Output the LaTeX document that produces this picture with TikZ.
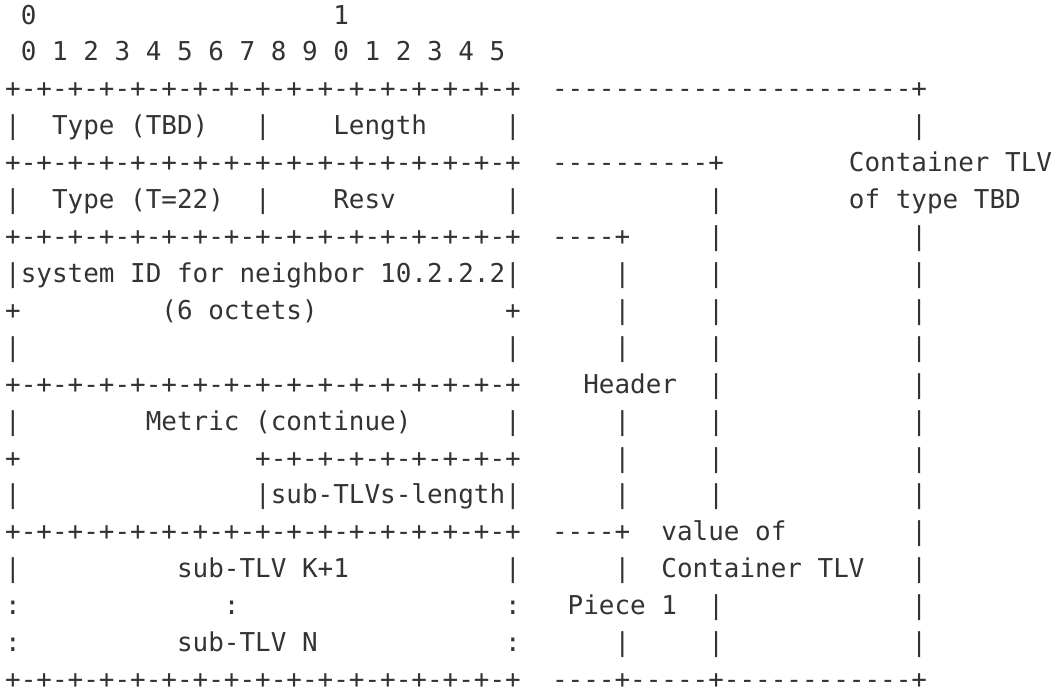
\documentclass[tikz,border=0pt]{standalone}
\usepackage{fontspec}
\setmonofont{DejaVu Sans Mono}
\definecolor{ink}{HTML}{333333}
% one character cell is 15.625 units wide; rows are 36.92 units apart
\tikzset{
  asc/.style={anchor=base west, inner sep=0pt, outer sep=0pt, text=ink,
    font=\ttfamily\fontsize{12.976}{15}\selectfont}
}
% \putseg{name}{row}{column}{text}
\newcommand\putseg[4]{\node[asc] (#1) at ({5.2+15.625*#3},{24+36.92*#2}) {#4};}
\begin{document}
\begin{tikzpicture}[x=0.5pt,y=-0.5pt]
\useasboundingbox (0,0) rectangle (1055,692);
% bit ruler
\putseg{r0a}{0}{1}{0}
\putseg{r0b}{0}{21}{1}
\putseg{r1a}{1}{1}{0 1 2 3 4 5 6 7 8 9 0 1 2 3 4 5}
% row 2
\putseg{r2a}{2}{0}{+-+-+-+-+-+-+-+-+-+-+-+-+-+-+-+-+}
\putseg{r2b}{2}{35}{-----------------------+}
% row 3
\putseg{r3a}{3}{0}{|}
\putseg{r3b}{3}{3}{Type (TBD)}
\putseg{r3c}{3}{16}{|}
\putseg{r3d}{3}{21}{Length}
\putseg{r3e}{3}{32}{|}
\putseg{r3f}{3}{58}{|}
% row 4
\putseg{r4a}{4}{0}{+-+-+-+-+-+-+-+-+-+-+-+-+-+-+-+-+}
\putseg{r4b}{4}{35}{----------+}
\putseg{r4c}{4}{54}{Container TLV}
% row 5
\putseg{r5a}{5}{0}{|}
\putseg{r5b}{5}{3}{Type (T=22)}
\putseg{r5c}{5}{16}{|}
\putseg{r5d}{5}{21}{Resv}
\putseg{r5e}{5}{32}{|}
\putseg{r5f}{5}{45}{|}
\putseg{r5g}{5}{54}{of type TBD}
% row 6
\putseg{r6a}{6}{0}{+-+-+-+-+-+-+-+-+-+-+-+-+-+-+-+-+}
\putseg{r6b}{6}{35}{----+}
\putseg{r6c}{6}{45}{|}
\putseg{r6d}{6}{58}{|}
% row 7
\putseg{r7a}{7}{0}{|system ID for neighbor 10.2.2.2|}
\putseg{r7b}{7}{39}{|}
\putseg{r7c}{7}{45}{|}
\putseg{r7d}{7}{58}{|}
% row 8
\putseg{r8a}{8}{0}{+}
\putseg{r8b}{8}{10}{(6 octets)}
\putseg{r8c}{8}{32}{+}
\putseg{r8d}{8}{39}{|}
\putseg{r8e}{8}{45}{|}
\putseg{r8f}{8}{58}{|}
% row 9
\putseg{r9a}{9}{0}{|}
\putseg{r9b}{9}{32}{|}
\putseg{r9c}{9}{39}{|}
\putseg{r9d}{9}{45}{|}
\putseg{r9e}{9}{58}{|}
% row 10
\putseg{r10a}{10}{0}{+-+-+-+-+-+-+-+-+-+-+-+-+-+-+-+-+}
\putseg{r10b}{10}{37}{Header}
\putseg{r10c}{10}{45}{|}
\putseg{r10d}{10}{58}{|}
% row 11
\putseg{r11a}{11}{0}{|}
\putseg{r11b}{11}{9}{Metric (continue)}
\putseg{r11c}{11}{32}{|}
\putseg{r11d}{11}{39}{|}
\putseg{r11e}{11}{45}{|}
\putseg{r11f}{11}{58}{|}
% row 12
\putseg{r12a}{12}{0}{+}
\putseg{r12b}{12}{16}{+-+-+-+-+-+-+-+-+}
\putseg{r12c}{12}{39}{|}
\putseg{r12d}{12}{45}{|}
\putseg{r12e}{12}{58}{|}
% row 13
\putseg{r13a}{13}{0}{|}
\putseg{r13b}{13}{16}{|sub-TLVs-length|}
\putseg{r13c}{13}{39}{|}
\putseg{r13d}{13}{45}{|}
\putseg{r13e}{13}{58}{|}
% row 14
\putseg{r14a}{14}{0}{+-+-+-+-+-+-+-+-+-+-+-+-+-+-+-+-+}
\putseg{r14b}{14}{35}{----+}
\putseg{r14c}{14}{42}{value of}
\putseg{r14d}{14}{58}{|}
% row 15
\putseg{r15a}{15}{0}{|}
\putseg{r15b}{15}{11}{sub-TLV K+1}
\putseg{r15c}{15}{32}{|}
\putseg{r15d}{15}{39}{|}
\putseg{r15e}{15}{42}{Container TLV}
\putseg{r15f}{15}{58}{|}
% row 16
\putseg{r16a}{16}{0}{:}
\putseg{r16b}{16}{14}{:}
\putseg{r16c}{16}{32}{:}
\putseg{r16d}{16}{36}{Piece 1}
\putseg{r16e}{16}{45}{|}
\putseg{r16f}{16}{58}{|}
% row 17
\putseg{r17a}{17}{0}{:}
\putseg{r17b}{17}{11}{sub-TLV N}
\putseg{r17c}{17}{32}{:}
\putseg{r17d}{17}{39}{|}
\putseg{r17e}{17}{45}{|}
\putseg{r17f}{17}{58}{|}
% row 18
\putseg{r18a}{18}{0}{+-+-+-+-+-+-+-+-+-+-+-+-+-+-+-+-+}
\putseg{r18b}{18}{35}{----+-----+------------+}
\end{tikzpicture}
\end{document}
